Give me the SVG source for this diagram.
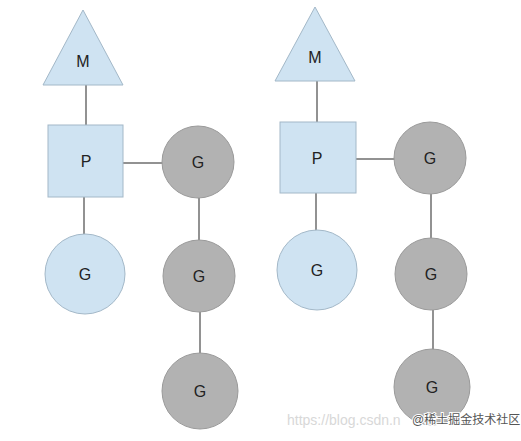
<svg xmlns="http://www.w3.org/2000/svg" width="521" height="441" viewBox="0 0 521 441">
<style>
.blue{fill:#cfe3f2;stroke:#a3b8c8;stroke-width:1}
.gray{fill:#b2b2b2;stroke:#9a9a9a;stroke-width:1}
.lbl{font-family:"Liberation Sans",Arial,sans-serif;font-size:16px;fill:#222;text-anchor:middle;dominant-baseline:central}
.edge{stroke:#6e6e6e;stroke-width:1.5;fill:none}
</style>
<rect width="521" height="441" fill="#ffffff"/>
<g id="connectors">
<line class="edge" x1="86" y1="85" x2="86" y2="125"/>
<line class="edge" x1="123" y1="163" x2="163" y2="163"/>
<line class="edge" x1="84" y1="197" x2="84" y2="234"/>
<line class="edge" x1="199" y1="198" x2="199" y2="240"/>
<line class="edge" x1="200" y1="312" x2="200" y2="353"/>
<line class="edge" x1="317" y1="81" x2="317" y2="122"/>
<line class="edge" x1="356" y1="159" x2="395" y2="159"/>
<line class="edge" x1="316" y1="193" x2="316" y2="231"/>
<line class="edge" x1="431" y1="194" x2="431" y2="238"/>
<line class="edge" x1="433" y1="310" x2="433" y2="350"/>
</g>
<g id="m1"><polygon class="blue" points="83,10 123,85 43,85"/><text class="lbl" x="83" y="61">M</text></g>
<g id="p1"><rect class="blue" x="48" y="125" width="75" height="72"/><text class="lbl" x="86" y="161">P</text></g>
<g id="g1"><circle class="blue" cx="85" cy="274" r="40"/><text class="lbl" x="85" y="274">G</text></g>
<g id="g2"><circle class="gray" cx="198" cy="162" r="36"/><text class="lbl" x="198" y="162">G</text></g>
<g id="g3"><circle class="gray" cx="199" cy="276" r="36"/><text class="lbl" x="199" y="276">G</text></g>
<g id="g4"><circle class="gray" cx="200" cy="391" r="38"/><text class="lbl" x="200" y="391">G</text></g>
<g id="m2"><polygon class="blue" points="315,7 355,81 275,81"/><text class="lbl" x="315" y="57">M</text></g>
<g id="p2"><rect class="blue" x="280" y="122" width="76" height="71"/><text class="lbl" x="317" y="158">P</text></g>
<g id="g5"><circle class="blue" cx="317" cy="270" r="40"/><text class="lbl" x="317" y="270">G</text></g>
<g id="g6"><circle class="gray" cx="430" cy="158" r="36"/><text class="lbl" x="430" y="158">G</text></g>
<g id="g7"><circle class="gray" cx="431" cy="274" r="36"/><text class="lbl" x="431" y="274">G</text></g>
<g id="g8"><circle class="gray" cx="432" cy="387" r="38"/><text class="lbl" x="432" y="387">G</text></g>
<g id="watermark">
<text x="287" y="425" font-family="'Liberation Sans',Arial,sans-serif" font-size="14" fill="#d8d8d8">https://blog.csdn.n</text>
<text x="412" y="424" font-family="'Liberation Sans','Noto Sans CJK SC',sans-serif" font-size="12" fill="#555" stroke="#ffffff" stroke-width="2" paint-order="stroke">@稀土掘金技术社区</text>
</g>
</svg>
